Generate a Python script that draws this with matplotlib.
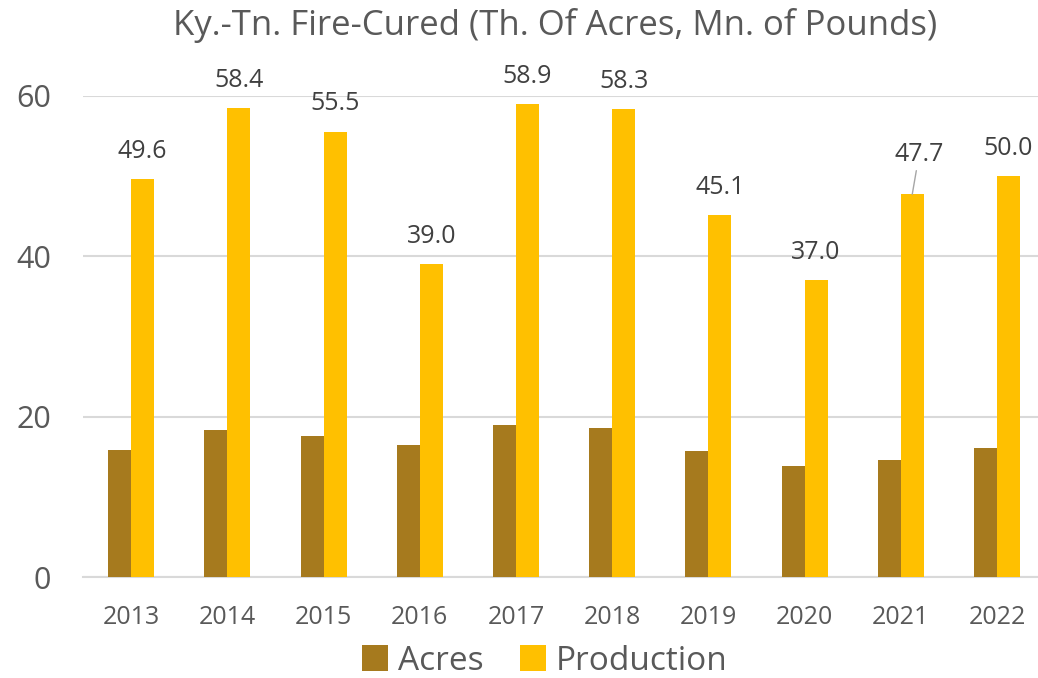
import matplotlib.pyplot as plt
import numpy as np

# Chart data
years = ['2013', '2014', '2015', '2016', '2017', '2018', '2019', '2020', '2021', '2022']
acres = [15.9, 18.3, 17.6, 16.5, 19.0, 18.6, 15.7, 13.9, 14.6, 16.1]
production = [49.6, 58.4, 55.5, 39.0, 58.9, 58.3, 45.1, 37.0, 47.7, 50.0]

plt.rcParams['font.family'] = ['Open Sans', 'DejaVu Sans']

acres_color = '#A67A1E'
prod_color = '#FFC000'
text_color = '#595959'

fig = plt.figure(figsize=(10.38, 6.78), dpi=100)
ax = fig.add_axes([0.08, 0.1485, 0.9268, 0.7106])

x = np.arange(len(years))
w = 0.239
b1 = ax.bar(x - w / 2, acres, w, color=acres_color, label='Acres', zorder=3)
b2 = ax.bar(x + w / 2, production, w, color=prod_color, label='Production', zorder=3)

ax.set_xlim(-0.5, len(years) - 0.5)
ax.set_ylim(0, 60)
ax.set_yticks([0, 20, 40, 60])
ax.yaxis.grid(True, color='#D9D9D9', linewidth=1.5, zorder=0)
ax.set_axisbelow(True)
for s in ['top', 'right', 'left']:
    ax.spines[s].set_visible(False)
ax.spines['bottom'].set_color('#D9D9D9')
ax.spines['bottom'].set_linewidth(1.5)
ax.tick_params(axis='y', length=0, labelsize=22, labelcolor=text_color, pad=23)
ax.tick_params(axis='x', length=0, labelsize=18, labelcolor=text_color, pad=20)
ax.set_xticks(x)
ax.set_xticklabels(years)

# Data labels on production bars
for i, v in enumerate(production):
    if years[i] == '2021':
        ax.annotate(f'{v:.1f}', xy=(x[i] + w / 2, v), xytext=(5, 29),
                    textcoords='offset points', ha='center', va='center',
                    fontsize=18, color='#404040', annotation_clip=False,
                    arrowprops=dict(arrowstyle='-', color='#A6A6A6', lw=1,
                                    shrinkA=1, shrinkB=0))
    else:
        ax.annotate(f'{v:.1f}', xy=(x[i] + w / 2, v), xytext=(0, 20),
                    textcoords='offset points', ha='center', va='center',
                    fontsize=18, color='#404040', annotation_clip=False)

fig.text(0.535, 0.962, 'Ky.-Tn. Fire-Cured (Th. Of Acres, Mn. of Pounds)',
         ha='center', va='center', fontsize=25, color=text_color)

fig.legend(handles=[b1, b2], loc='lower center', bbox_to_anchor=(0.525, -0.024),
           ncol=2, frameon=False, fontsize=24, labelcolor=text_color, borderpad=0,
           handlelength=0.78, handleheight=0.78, handletextpad=0.3, columnspacing=1.1)

fig.savefig('out.png', dpi=100)
